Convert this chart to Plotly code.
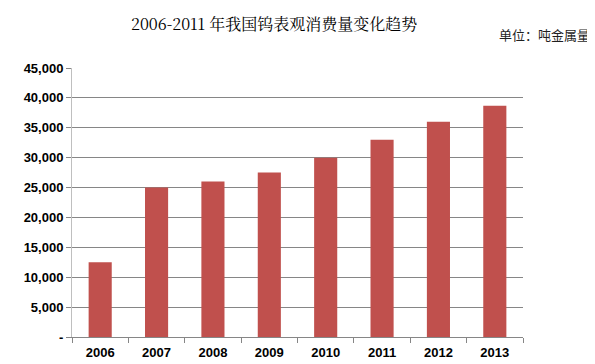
import plotly.graph_objects as go

years = ["2006", "2007", "2008", "2009", "2010", "2011", "2012", "2013"]
consumption = [12500, 25000, 26000, 27500, 30000, 33000, 36000, 38700]
ytick_vals = [0, 5000, 10000, 15000, 20000, 25000, 30000, 35000, 40000, 45000]
ytick_text = ["-", "5,000", "10,000", "15,000", "20,000", "25,000", "30,000", "35,000", "40,000", "45,000"]

fig = go.Figure(go.Bar(x=years, y=consumption, marker_color="#C0504D",
                       marker_line_width=0, width=0.41))

# the page adds an 8px left offset, so the figure is narrowed/shifted to compensate
W, H = 587, 364
L, R, T, B = 64, 72, 60, 28
plot_w = W - L - R
plot_h = H - T - B


def px(xf):
    return (xf - L) / plot_w


def py(yf):
    return (H - B - yf) / plot_h


fig.update_layout(
    width=W, height=H,
    margin=dict(l=L, r=R, t=T, b=B),
    plot_bgcolor="white", paper_bgcolor="white",
    showlegend=False,
    font=dict(family="Liberation Sans, Arial, sans-serif", color="#000000"),
    annotations=[
        dict(text="2006-2011 年我国钨表观消费量变化趋势",
             x=px(121), y=py(1), xref="paper", yref="paper",
             showarrow=False, font=dict(size=16, family="Noto Serif CJK SC, Noto Sans CJK SC"),
             xanchor="left", yanchor="top"),
        dict(text="单位：吨金属量",
             x=px(584), y=py(26), xref="paper", yref="paper",
             showarrow=False, font=dict(size=13, family="Noto Sans CJK SC", color="#1F1F1F"),
             xanchor="right", yanchor="middle"),
    ],
)

tick_font = dict(size=13, family="Liberation Sans, Arial", color="#000000", weight="bold")

fig.update_yaxes(range=[0, 45000], tickvals=ytick_vals, ticktext=ytick_text,
                 showgrid=True, gridcolor="#868686", gridwidth=1,
                 showline=True, linecolor="#BFBFBF", linewidth=1,
                 ticks="outside", ticklen=5, tickcolor="#868686",
                 tickfont=tick_font, zeroline=False)
fig.update_xaxes(type="category", tickson="boundaries", ticks="outside", ticklen=5,
                 tickcolor="#868686", showline=True, linecolor="#868686", linewidth=1,
                 showgrid=False, ticklabelstandoff=3, tickfont=tick_font)

fig.write_html("out.html")
